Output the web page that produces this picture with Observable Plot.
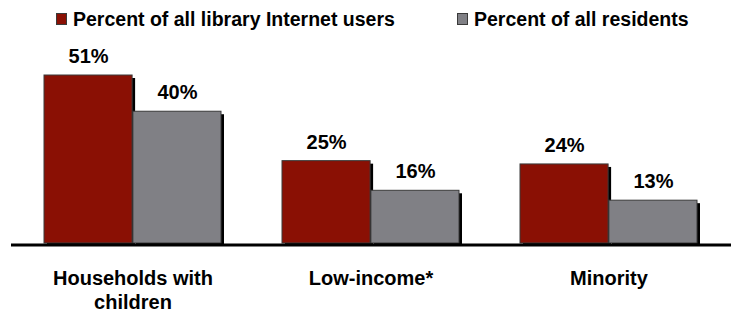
<!DOCTYPE html>
<html>
<head>
<meta charset="utf-8">
<script src="https://cdn.jsdelivr.net/npm/d3@7"></script>
<script src="https://cdn.jsdelivr.net/npm/@observablehq/plot@0.6"></script>
<style>
  html, body { margin: 0; padding: 0; background: #fff; }
  #wrap { width: 731px; font-family: "Liberation Sans", Arial, sans-serif; }
  #legend { position: relative; height: 36px; width: 731px; }
  .sw { position: absolute; top: 13px; width: 11px; height: 12px; box-sizing: border-box; border: 1px solid #3a3a3a; }
  .lt { position: absolute; top: 8px; font-size: 19.5px; font-weight: bold; color: #000; line-height: 22px; white-space: nowrap; }
  svg { display: block; }
</style>
</head>
<body>
<div id="wrap">
  <div id="legend"></div>
  <div id="chart"></div>
</div>
<script>
const categories = ["Households with children", "Low-income*", "Minority"];
const categoryLabels = ["Households with\nchildren", "Low-income*", "Minority"];
const series = ["Percent of all library Internet users", "Percent of all residents"];
const libraryUsers = [51, 25, 24];
const allResidents = [40, 16, 13];
const colors = ["#8a1004", "#808085"];

const red = categories.map((c, i) => ({category: c, label: categoryLabels[i], series: series[0], value: libraryUsers[i]}));
const gray = categories.map((c, i) => ({category: c, label: categoryLabels[i], series: series[1], value: allResidents[i]}));

// legend
const legend = document.getElementById("legend");
const legendX = [[56, 73], [457, 474]];
series.forEach((s, i) => {
  const sw = document.createElement("div");
  sw.className = "sw";
  sw.style.left = legendX[i][0] + "px";
  sw.style.background = colors[i];
  legend.appendChild(sw);
  const t = document.createElement("div");
  t.className = "lt";
  t.style.left = legendX[i][1] + "px";
  t.textContent = s;
  legend.appendChild(t);
});

const W = 731, H = 278, mL = 11, mR = 0;
const pInner = 0.255, pOuter = 0.136;
const step = (W - mL - mR) / (categories.length - pInner + 2 * pOuter);
const bw = step * (1 - pInner);
const half = bw / 2;

const chart = Plot.plot({
  width: W,
  height: H,
  marginLeft: mL,
  marginRight: mR,
  marginTop: 0,
  marginBottom: 0,
  style: {fontFamily: "'Liberation Sans', Arial, sans-serif", background: "white"},
  x: {domain: categories, paddingInner: pInner, paddingOuter: pOuter, align: 0.5, axis: null},
  y: {domain: [0, 51], range: [207, 39], axis: null},
  marks: [
    Plot.barY(red, {x: "category", y: "value", fill: "black", insetRight: half, dx: 3, dy: 3}),
    Plot.barY(red, {x: "category", y: "value", fill: colors[0], stroke: "#3a3a3a", strokeWidth: 1, insetRight: half}),
    Plot.barY(gray, {x: "category", y: "value", fill: "black", insetLeft: half, dx: 3, dy: 3}),
    Plot.barY(gray, {x: "category", y: "value", fill: colors[1], stroke: "#3a3a3a", strokeWidth: 1, insetLeft: half}),
    Plot.ruleY([0], {stroke: "black", strokeWidth: 3, dy: 1.5}),
    Plot.text(red, {x: "category", y: "value", text: d => d.value + "%", dx: -half / 2, dy: -19, fontSize: 20, fontWeight: "bold", fill: "black"}),
    Plot.text(gray, {x: "category", y: "value", text: d => d.value + "%", dx: half / 2, dy: -19, fontSize: 20, fontWeight: "bold", fill: "black"}),
    Plot.text(red, {x: "category", y: () => 0, text: "label", lineAnchor: "top", lineHeight: 1.2, dy: 24, fontSize: 20, fontWeight: "bold", fill: "black"})
  ]
});
document.getElementById("chart").appendChild(chart);
</script>
</body>
</html>
